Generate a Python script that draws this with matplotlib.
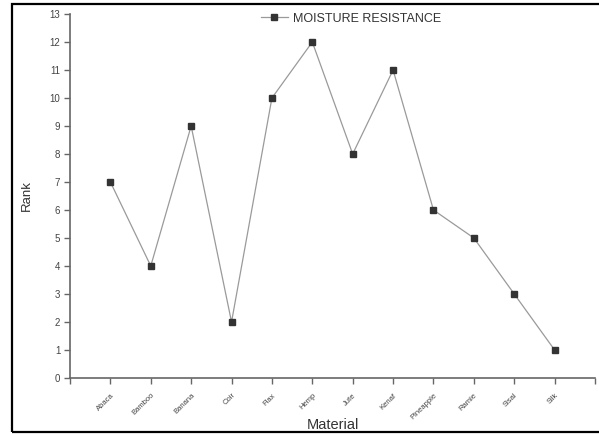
import matplotlib.pyplot as plt
from matplotlib.patches import Rectangle

plt.rcParams['font.family'] = ['Liberation Sans', 'DejaVu Sans']

# Moisture resistance rank per fibre material
materials = ["Abaca", "Bamboo", "Banana", "Coir", "Flax", "Hemp",
             "Jute", "Kenaf", "Pineapple", "Ramie", "Sisal", "Silk"]
rank = [7, 4, 9, 2, 10, 12, 8, 11, 6, 5, 3, 1]
y_ticks = list(range(0, 14))

W, H = 599, 434
fig = plt.figure(figsize=(W / 100, H / 100), dpi=100)
ax = fig.add_axes([70 / W, 1 - 378 / H, 525 / W, 364 / H])

x = list(range(1, len(materials) + 1))
ax.plot(x, rank, color="#9a9a9a", linewidth=0.9, marker="s", markersize=5,
        markerfacecolor="#333333", markeredgecolor="#333333",
        label="MOISTURE RESISTANCE")

ax.set_xlim(0, 13)
ax.set_ylim(0, 13)
ax.set_xticks(list(range(0, 14)))
ax.set_xticklabels([""] + materials + [""], rotation=45, ha="right",
                   rotation_mode="anchor", fontsize=5.5, color="#444444")
ax.set_yticks(y_ticks)
ax.set_yticklabels([str(v) for v in y_ticks], fontsize=7, color="#444444")

for side in ["top", "right"]:
    ax.spines[side].set_visible(False)
for side in ["left", "bottom"]:
    ax.spines[side].set_color("#666666")
    ax.spines[side].set_linewidth(1.2)
ax.tick_params(axis="both", direction="out", length=4, width=1, color="#666666", pad=3)
ax.tick_params(axis="x", pad=6)

ax.set_xlabel("Material", fontsize=10.5, color="#333333", labelpad=-2)
ax.set_ylabel("Rank", fontsize=9.5, color="#333333", labelpad=12)

ax.legend(loc="upper center", bbox_to_anchor=(0.535, 1.035), frameon=False,
          fontsize=9, handlelength=2.2, handletextpad=0.4,
          labelcolor="#333333")

# black frame around the whole picture
fig.patches.append(Rectangle((12 / W, 2 / H), 590 / W, 428 / H,
                             transform=fig.transFigure, fill=False,
                             edgecolor="black", linewidth=1.6))

fig.savefig("out.png", dpi=100)
